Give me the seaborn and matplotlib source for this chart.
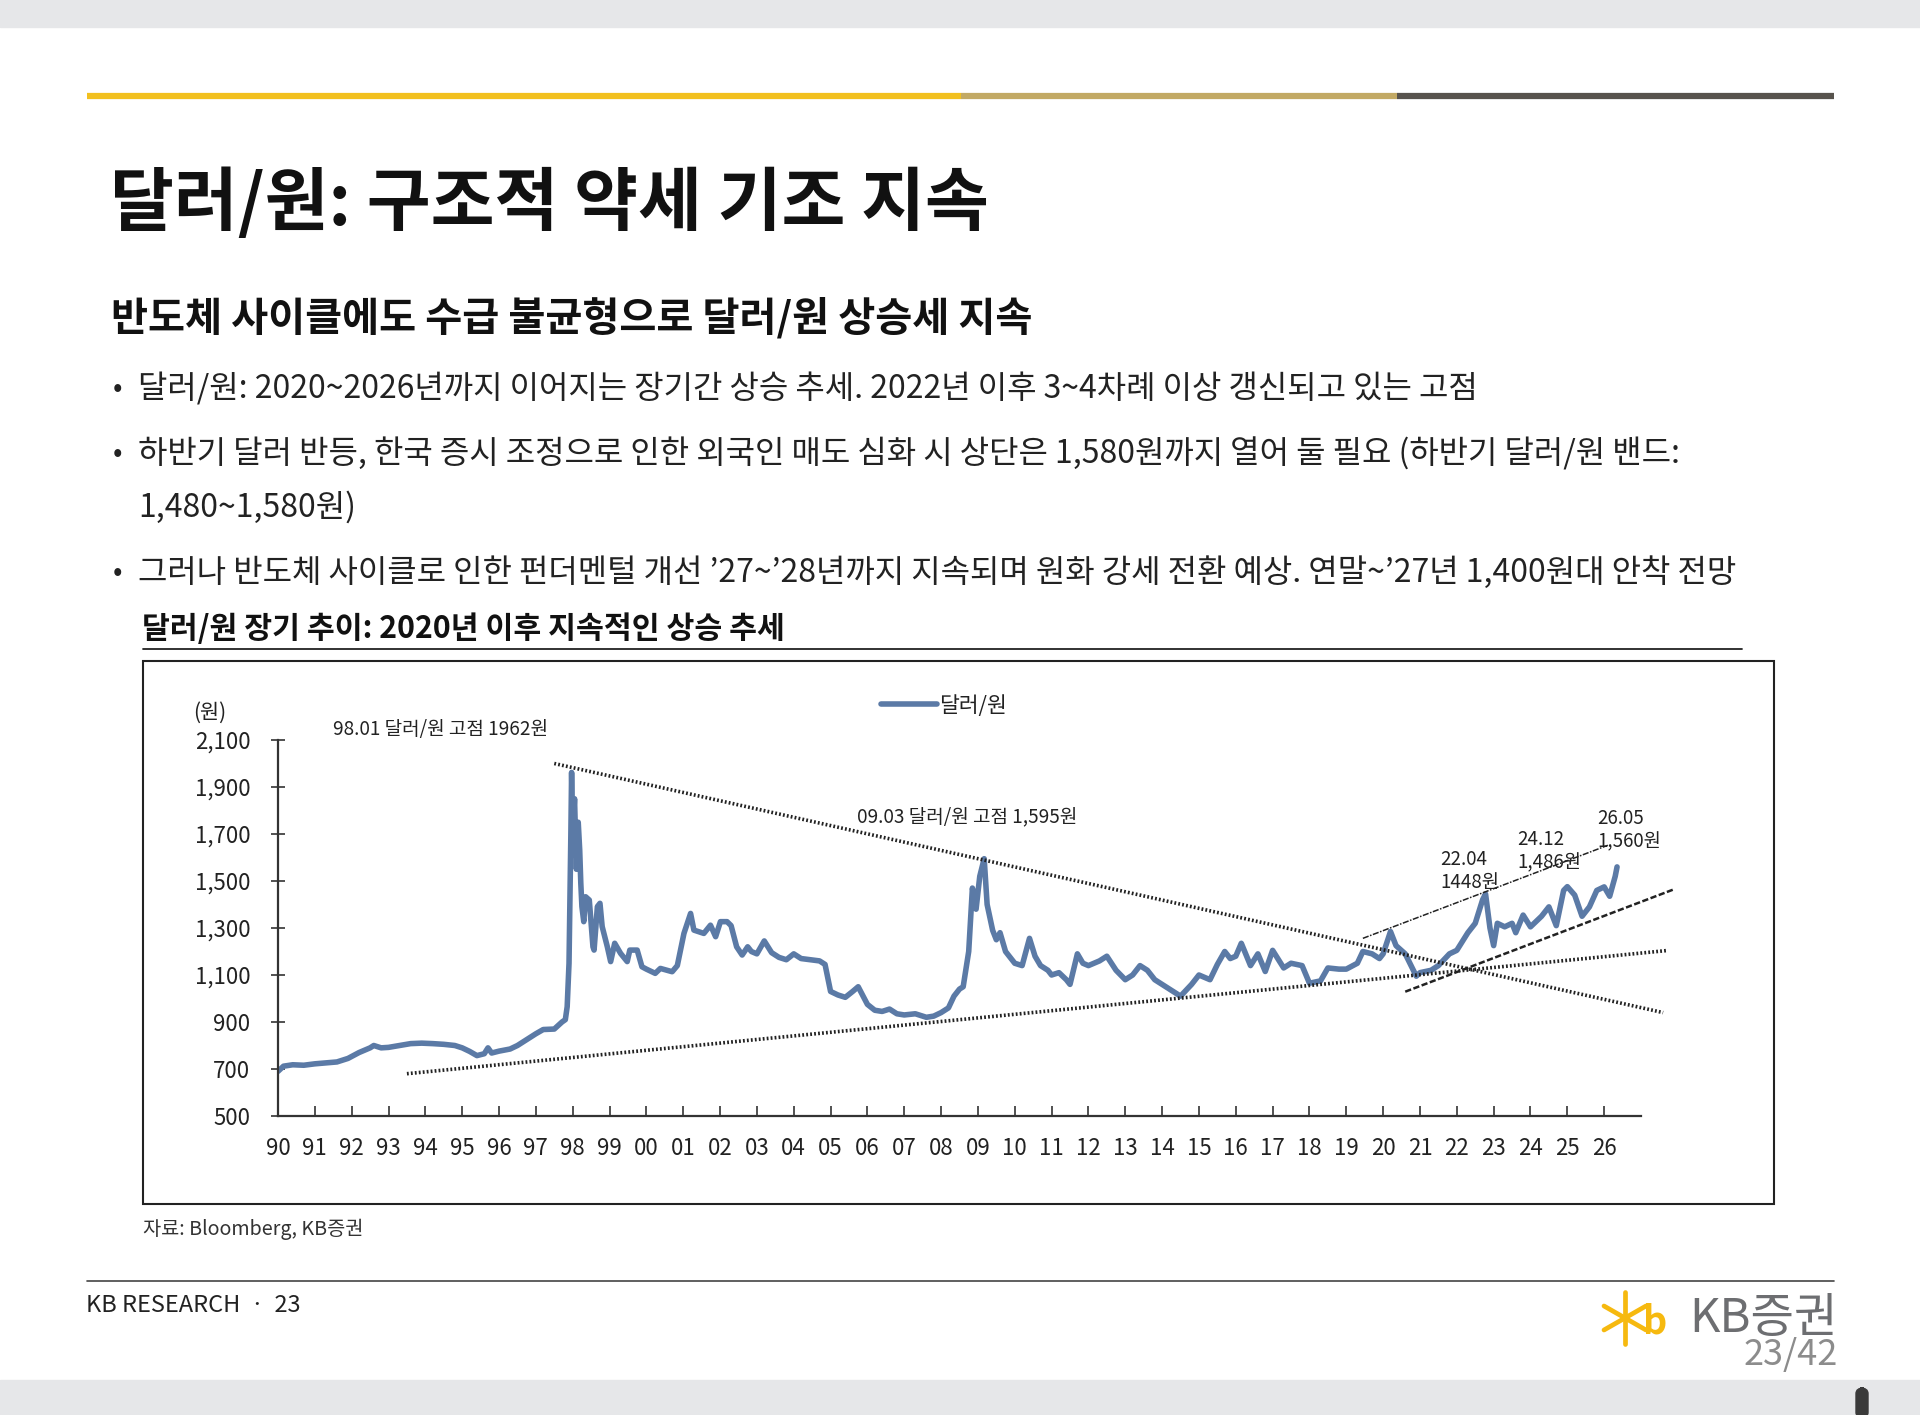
import matplotlib
matplotlib.use("Agg")
import matplotlib.pyplot as plt
import seaborn as sns
from matplotlib.patches import Rectangle, FancyBboxPatch
from matplotlib.lines import Line2D

# USD/KRW long-term series (decimal year, won)
years = [
    1990.0, 1990.15, 1990.4, 1990.7, 1991.0, 1991.3, 1991.6, 1991.9, 1992.2, 1992.5,
    1992.6, 1992.8, 1993.0, 1993.3, 1993.6, 1993.9, 1994.2, 1994.5, 1994.8, 1995.0,
    1995.2, 1995.4, 1995.6, 1995.7, 1995.8, 1996.0, 1996.3, 1996.5, 1996.8, 1997.0,
    1997.2, 1997.5, 1997.71, 1997.8, 1997.85, 1997.9, 1997.95, 1997.97, 1998.0, 1998.05,
    1998.1, 1998.15, 1998.19, 1998.22, 1998.25, 1998.3, 1998.35, 1998.45, 1998.55, 1998.58,
    1998.67, 1998.74, 1998.8, 1998.94, 1999.03, 1999.14, 1999.3, 1999.48, 1999.55, 1999.75,
    1999.88, 2000.0, 2000.24, 2000.38, 2000.7, 2000.84, 2001.02, 2001.2, 2001.29, 2001.56,
    2001.74, 2001.88, 2002.01, 2002.19, 2002.3, 2002.45, 2002.6, 2002.75, 2002.85, 2003.0,
    2003.2, 2003.4, 2003.6, 2003.8, 2004.0, 2004.2, 2004.45, 2004.7, 2004.85, 2005.0,
    2005.2, 2005.4, 2005.6, 2005.75, 2005.9, 2006.0, 2006.2, 2006.4, 2006.6, 2006.8,
    2007.0, 2007.3, 2007.6, 2007.8, 2008.0, 2008.2, 2008.35, 2008.5, 2008.6, 2008.75,
    2008.85, 2008.95, 2009.05, 2009.17, 2009.25, 2009.4, 2009.5, 2009.6, 2009.75, 2009.9,
    2010.0, 2010.2, 2010.4, 2010.55, 2010.7, 2010.9, 2011.0, 2011.2, 2011.4, 2011.5,
    2011.7, 2011.85, 2012.0, 2012.3, 2012.5, 2012.75, 2013.0, 2013.2, 2013.4, 2013.6,
    2013.8, 2014.0, 2014.3, 2014.5, 2014.8, 2015.0, 2015.3, 2015.5, 2015.7, 2015.85,
    2016.0, 2016.15, 2016.4, 2016.6, 2016.8, 2017.0, 2017.3, 2017.5, 2017.8, 2018.0,
    2018.3, 2018.5, 2018.8, 2019.0, 2019.3, 2019.45, 2019.7, 2019.9, 2020.0, 2020.2,
    2020.35, 2020.6, 2020.9, 2021.0, 2021.3, 2021.5, 2021.8, 2022.0, 2022.3, 2022.5,
    2022.7, 2022.78, 2022.9, 2023.0, 2023.1, 2023.3, 2023.5, 2023.6, 2023.8, 2024.0,
    2024.3, 2024.5, 2024.7, 2024.9, 2025.0, 2025.2, 2025.4, 2025.6, 2025.8, 2026.0,
    2026.15, 2026.3, 2026.35,
]
usdkrw = [
    690, 712, 718, 716, 722, 726, 730, 745, 770, 790,
    800, 790, 792, 800, 808, 810, 808, 805, 800, 790,
    775, 757, 765, 790, 768, 776, 785, 800, 830, 850,
    868, 870, 900, 910, 965, 1150, 1700, 1962, 1700, 1850,
    1550, 1750, 1632, 1490, 1391, 1327, 1433, 1419, 1220, 1206,
    1391, 1405, 1306, 1220, 1157, 1235, 1192, 1157, 1206, 1206,
    1135, 1125, 1107, 1128, 1114, 1140, 1277, 1362, 1291, 1277,
    1312, 1263, 1327, 1327, 1310, 1220, 1185, 1220, 1200, 1190,
    1245, 1195, 1175, 1165, 1190, 1170, 1165, 1160, 1145, 1030,
    1015, 1005, 1030, 1050, 1005, 975, 950, 945, 955, 935,
    930, 935, 920, 925, 940, 960, 1010, 1040, 1050, 1200,
    1470, 1380, 1520, 1595, 1400, 1290, 1250, 1280, 1200, 1170,
    1150, 1140, 1256, 1180, 1140, 1120, 1100, 1110, 1080, 1060,
    1190, 1150, 1140, 1160, 1180, 1120, 1080, 1100, 1140, 1120,
    1080, 1060, 1030, 1010, 1060, 1100, 1080, 1145, 1200, 1170,
    1180, 1235, 1140, 1190, 1115, 1205, 1130, 1150, 1140, 1065,
    1075, 1130, 1125, 1125, 1150, 1200, 1190, 1170, 1190, 1285,
    1225, 1190, 1095, 1110, 1120, 1140, 1190, 1205, 1280, 1320,
    1420, 1445, 1300, 1225, 1320, 1305, 1320, 1280, 1355, 1305,
    1350, 1390, 1310, 1460, 1476, 1440, 1350, 1390, 1460, 1475,
    1435, 1520, 1560,
]

# trend lines: (start year, end year), (start value, end value)
upper_long_x, upper_long_y = [1997.5, 2027.6], [2000, 940]
lower_long_x, lower_long_y = [1993.5, 2027.7], [680, 1204]
chan_top_x, chan_top_y = [2019.45, 2026.1], [1256, 1652]
chan_bot_x, chan_bot_y = [2020.6, 2027.9], [1029, 1465]

tick_years = list(range(1990, 2027))
tick_labels = [f"{y % 100:02d}" for y in tick_years]
y_ticks = list(range(500, 2101, 200))

title = "달러/원: 구조적 약세 기조 지속"
subtitle = "반도체 사이클에도 수급 불균형으로 달러/원 상승세 지속"
bullets = [
    "달러/원: 2020~2026년까지 이어지는 장기간 상승 추세. 2022년 이후 3~4차례 이상 갱신되고 있는 고점",
    "하반기 달러 반등, 한국 증시 조정으로 인한 외국인 매도 심화 시 상단은 1,580원까지 열어 둘 필요 (하반기 달러/원 밴드:",
    "1,480~1,580원)",
    "그러나 반도체 사이클로 인한 펀더멘털 개선 ’27~’28년까지 지속되며 원화 강세 전환 예상. 연말~’27년 1,400원대 안착 전망",
]
chart_title = "달러/원 장기 추이: 2020년 이후 지속적인 상승 추세"

sns.set_theme(style="white")
plt.rcParams["font.family"] = ["Noto Sans CJK KR", "DejaVu Sans"]

W, H = 1920, 1415
fig = plt.figure(figsize=(W / 100, H / 100), dpi=100)


def fx(x):
    return x / W


def fy(y):
    return 1 - y / H


# slide frame
fig.patches.append(Rectangle((0, fy(27)), 1, 27 / H, transform=fig.transFigure,
                             color="#e6e7e9", zorder=0))
fig.patches.append(Rectangle((0, 0), 1, fy(1380), transform=fig.transFigure,
                             color="#e6e7e9", zorder=0))
fig.patches.append(FancyBboxPatch((fx(1856), fy(1418)), 12 / W, 30 / H,
                                  boxstyle="round,pad=0,rounding_size=0.004",
                                  transform=fig.transFigure, color="#3a3a3a"))
for x0, x1, c in [(87, 961, "#f2c01e"), (961, 1397, "#c2a964"), (1397, 1834, "#57534d")]:
    fig.add_artist(Line2D([fx(x0), fx(x1)], [fy(96), fy(96)], color=c, lw=4.5,
                          solid_capstyle="butt"))

fig.text(fx(110), fy(204), title, fontsize=50, fontweight="bold", va="center", color="#111")
fig.text(fx(111), fy(319), subtitle, fontsize=29, fontweight="bold", va="center", color="#111")
for (yy, txt, dot) in [(389, bullets[0], True), (454, bullets[1], True),
                       (507, bullets[2], False), (573, bullets[3], True)]:
    if dot:
        fig.text(fx(113), fy(yy), "•", fontsize=20, va="center", color="#222")
    fig.text(fx(138), fy(yy), txt, fontsize=23, va="center", color="#222")

fig.text(fx(142), fy(629), chart_title, fontsize=21.8, fontweight="bold", va="center", color="#111")
fig.add_artist(Line2D([fx(143), fx(1742)], [fy(649), fy(649)], color="#222", lw=1.3))
fig.patches.append(Rectangle((fx(143), fy(1204)), (1774 - 143) / W, (1204 - 661) / H,
                             transform=fig.transFigure, fill=False, ec="#222", lw=1.5))

# chart
ax = fig.add_axes([fx(278), fy(1116), (1641 - 278) / W, (1116 - 740) / H])
ax.set_facecolor("none")
sns.lineplot(x=years, y=usdkrw, ax=ax, color="#5b7aa6", lw=4, label="달러/원")

dot = (0, (0.5, 0.6))
ax.plot(upper_long_x, upper_long_y, color="#222", lw=2.6, ls=dot, clip_on=False)
ax.plot(lower_long_x, lower_long_y, color="#222", lw=2.6, ls=dot, clip_on=False)
ax.plot(chan_top_x, chan_top_y, color="#222", lw=1.1, ls=(0, (4, 1, 1, 1)), clip_on=False)
ax.plot(chan_bot_x, chan_bot_y, color="#222", lw=1.8, ls=(0, (2.5, 1)), clip_on=False)

ax.set_xlim(1990, 2027)
ax.set_ylim(500, 2100)
ax.set_xticks(tick_years)
ax.set_xticklabels(tick_labels)
ax.set_yticks(y_ticks)
ax.set_yticklabels([f"{v:,}" for v in y_ticks])
for s in ["top", "right"]:
    ax.spines[s].set_visible(False)
for s in ["left", "bottom"]:
    ax.spines[s].set_color("#333")
    ax.spines[s].set_linewidth(1.6)
ax.tick_params(axis="x", direction="in", length=7, width=1.2, color="#333",
               labelsize=16, pad=15, labelcolor="#222", bottom=True)
ax.tick_params(axis="y", direction="inout", length=10, width=1.2, color="#333",
               labelsize=16, pad=15, labelcolor="#222", left=True)
ax.set_xlabel("")
ax.set_ylabel("")
ax.legend(loc="center left", bbox_to_anchor=(fx(862), fy(706)), bbox_transform=fig.transFigure,
          frameon=False, fontsize=15.5, handlelength=2.6, handletextpad=0.1,
          labelcolor="#222")

fig.text(fx(193), fy(713), "(원)", fontsize=15, va="center", color="#222")
fig.text(fx(333), fy(730), "98.01 달러/원 고점 1962원", fontsize=13.7, va="center", color="#222")
fig.text(fx(857), fy(817), "09.03 달러/원 고점 1,595원", fontsize=13.7, va="center", color="#222")
fig.text(fx(1440), fy(871), "22.04\n1448원", fontsize=13.5, va="center", color="#222",
         linespacing=1.15)
fig.text(fx(1517), fy(851), "24.12\n1,486원", fontsize=13.5, va="center", color="#222",
         linespacing=1.15)
fig.text(fx(1597), fy(830), "26.05\n1,560원", fontsize=13.5, va="center", color="#222",
         linespacing=1.15)

fig.text(fx(143), fy(1229), "자료: Bloomberg, KB증권", fontsize=14.2, va="center", color="#333")

# footer
fig.add_artist(Line2D([fx(87), fx(1834)], [fy(1281), fy(1281)], color="#444", lw=1.2))
fig.text(fx(86), fy(1305), "KB RESEARCH  ·  23", fontsize=17, va="center", color="#222")
fig.text(fx(1838), fy(1319), "KB증권", fontsize=34, va="center", ha="right", color="#6d6e71")
fig.text(fx(1838), fy(1355), "23/42", fontsize=26, va="center", ha="right", color="#8c8c8c",
         fontweight="light")
cx, cy = 1625, 1318
for dx, dy in [(0, 26), (21, 12), (21, -12)]:
    fig.add_artist(Line2D([fx(cx - dx), fx(cx + dx)], [fy(cy - dy), fy(cy + dy)],
                          color="#f6b90f", lw=3.4, solid_capstyle="round"))
fig.text(fx(1643), fy(1322), "b", fontsize=27, va="center", color="#f6b90f",
         fontweight="bold", style="italic")

fig.savefig("out.png", dpi=100, facecolor="white")
